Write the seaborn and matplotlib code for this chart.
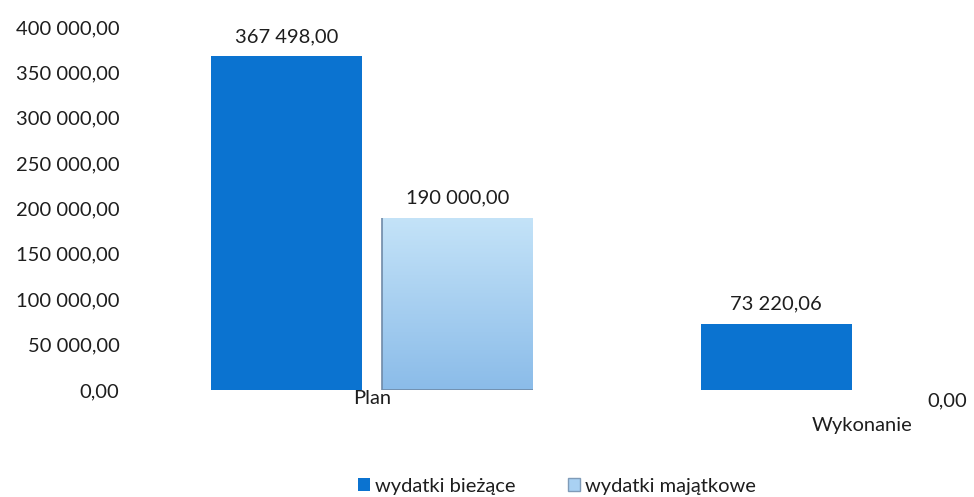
import numpy as np
import pandas as pd
import seaborn as sns
import matplotlib.pyplot as plt
from matplotlib.ticker import FuncFormatter
from matplotlib.colors import LinearSegmentedColormap
from matplotlib.patches import Patch

sns.set_style('white')
plt.rcParams['font.family'] = ['Lato', 'DejaVu Sans']

categories = ["Plan", "Wykonanie"]
series = ["wydatki bieżące", "wydatki majątkowe"]
biezace = [367498.00, 73220.06]
majatkowe = [190000.00, 0.00]

df = pd.DataFrame({
    "kategoria": categories * 2,
    "seria": [series[0]] * 2 + [series[1]] * 2,
    "kwota": biezace + majatkowe,
})


def pl_fmt(v, pos=None):
    s = f"{v:,.2f}"
    return s.replace(",", " ").replace(".", ",")


blue = "#0b73d0"
light = "#a9d1f3"
text_col = "#1e1e1e"
fs = 14.5

fig = plt.figure(figsize=(9.74, 4.97), dpi=100)
ax = fig.add_axes([0.1355, 0.2153, 0.855, 0.7304])

sns.barplot(data=df, x="kategoria", y="kwota", hue="seria",
            palette=[blue, light], saturation=1, width=0.7, gap=0.12,
            edgecolor='none', linewidth=0, ax=ax, legend=False)

# gradient fill for the light series
cmap = LinearSegmentedColormap.from_list("lb", ["#8bbce9", "#c4e3f8"])
grad = np.linspace(1, 0, 100).reshape(-1, 1)
for bar in ax.containers[1]:
    h = bar.get_height()
    if h <= 0:
        continue
    x0, w = bar.get_x(), bar.get_width()
    im = ax.imshow(grad, extent=[x0, x0 + w, 0, h], cmap=cmap,
                   aspect='auto', zorder=bar.get_zorder() + 0.1)
    im.set_clip_path(bar)
    ax.plot([x0, x0, x0 + w], [h, 0, 0], color="#6f8aa8", lw=1.2,
            zorder=bar.get_zorder() + 0.2, solid_capstyle='butt')

for cont in ax.containers:
    anns = ax.bar_label(cont, labels=[pl_fmt(b.get_height()) for b in cont],
                        padding=8, fontsize=fs, color=text_col)
    for b, a in zip(cont, anns):
        if b.get_height() == 0:
            a.xyann = (0, -14)

ax.set_xlim(-0.49, 1.21)
ax.set_ylim(0, 400000)
ax.set_yticks(np.arange(0, 400001, 50000))
ax.yaxis.set_major_formatter(FuncFormatter(pl_fmt))
ax.set_xticks(range(len(categories)))
ax.set_xticklabels([categories[0], "\n" + categories[1]])
ax.get_xticklabels()[1].set_linespacing(1.75)
ax.tick_params(axis='y', length=0, pad=9, labelsize=fs, labelcolor=text_col)
ax.tick_params(axis='x', length=0, pad=0, labelsize=fs, labelcolor=text_col)
ax.set_xlabel("")
ax.set_ylabel("")
sns.despine(ax=ax, left=True, bottom=True)

handles = [Patch(facecolor=blue, edgecolor='none'),
           Patch(facecolor=light, edgecolor='#7f9bb8')]
fig.legend(handles, series, loc='lower center', bbox_to_anchor=(0.572, -0.032),
           ncol=2, frameon=False, fontsize=fs, handlelength=0.6,
           handleheight=0.6, handletextpad=0.25, columnspacing=2.6,
           labelcolor=text_col)

plt.savefig("out.png", dpi=100)
